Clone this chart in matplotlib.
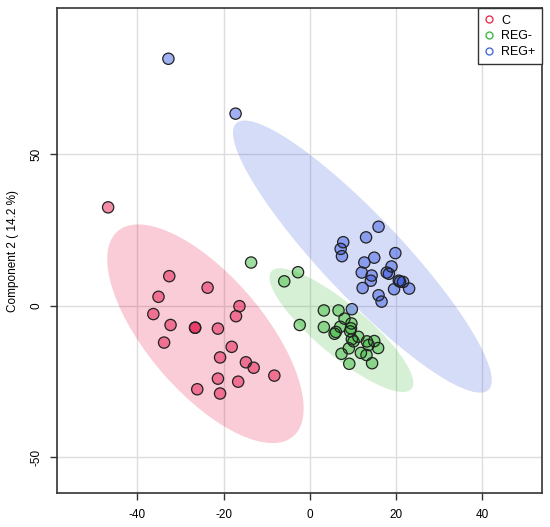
import numpy as np
import matplotlib
matplotlib.use("Agg")
import matplotlib.pyplot as plt
from matplotlib.patches import Ellipse
from matplotlib.lines import Line2D

plt.rcParams['font.family'] = ['Liberation Sans', 'DejaVu Sans']

# group scores (component 1, component 2)
c_x = [-46.8, -32.6, -23.7, -35.1, -16.3, -36.3, -17.1, -32.3, -26.6, -26.6,
       -21.3, -33.8, -18.1, -20.8, -14.8, -13.0, -8.2, -21.3, -16.6, -26.1, -20.8]
c_y = [32.4, 9.7, 5.9, 2.9, -0.2, -2.8, -3.5, -6.4, -7.3, -7.3,
       -7.6, -12.2, -13.6, -17.1, -18.7, -20.5, -23.1, -24.1, -25.1, -27.6, -29.0]

regm_x = [-13.6, -2.7, -5.9, -2.3, 3.3, 6.7, 8.1, 3.3, 5.8, 6.1, 7.1, 9.7, 9.6, 9.4,
          11.3, 9.8, 10.2, 13.3, 15.0, 13.7, 15.9, 9.1, 11.9, 13.2, 7.4, 14.5, 9.2]
regm_y = [14.2, 11.0, 8.0, -6.4, -1.6, -1.6, -4.3, -7.1, -9.3, -8.7, -7.0, -5.9, -7.5, -8.5,
          -10.3, -11.1, -11.8, -11.8, -11.7, -13.0, -14.0, -14.1, -15.6, -16.3, -15.9, -19.0, -19.2]

regp_x = [-32.8, -17.2, 16.0, 13.1, 7.8, 7.2, 7.5, 19.9, 15.0, 12.7, 19.0, 12.1, 14.4,
          17.9, 18.4, 14.2, 20.7, 21.0, 21.7, 23.1, 19.6, 12.3, 16.0, 16.7, 9.8]
regp_y = [81.4, 63.3, 26.0, 22.5, 20.9, 18.7, 16.3, 17.3, 15.8, 14.2, 12.9, 10.9, 9.9,
          10.9, 10.5, 8.2, 8.2, 7.9, 7.8, 5.6, 5.4, 5.8, 3.4, 1.3, -1.2]

groups = ["C", "REG-", "REG+"]
colors = ["#E5003A", "#2DB52D", "#3050E0"]
legend_colors = ["#E8334F", "#3DBB4A", "#4A6BE0"]

x_ticks = [-40, -20, 0, 20, 40]
y_ticks = [-50, 0, 50]


def conf_ellipse(x, y, color):
    # 95% confidence ellipse from the group covariance
    x = np.asarray(x)
    y = np.asarray(y)
    cov = np.cov(x, y)
    vals, vecs = np.linalg.eigh(cov)
    order = vals.argsort()[::-1]
    vals, vecs = vals[order], vecs[:, order]
    t = np.sqrt(5.991)
    angle = np.degrees(np.arctan2(vecs[1, 0], vecs[0, 0]))
    return Ellipse((x.mean(), y.mean()), 2 * t * np.sqrt(vals[0]), 2 * t * np.sqrt(vals[1]),
                   angle=angle, facecolor=color, alpha=0.2, edgecolor='none', zorder=1)


fig = plt.figure(figsize=(5.5, 5.27), dpi=100)
ax = fig.add_axes([0.1042, 0.064, 0.8808, 0.920])

data = [(c_x, c_y), (regm_x, regm_y), (regp_x, regp_y)]
for (gx, gy), col in zip(data, colors):
    ax.add_patch(conf_ellipse(gx, gy, col))

for (gx, gy), col in zip(data, colors):
    ax.scatter(gx, gy, s=66, facecolor=col, alpha=0.45, edgecolor='none', zorder=3)
    ax.scatter(gx, gy, s=66, facecolor='none', edgecolor='#222222', linewidth=0.9, zorder=4)

ax.set_xlim(-58.6, 53.9)
ax.set_ylim(-61.9, 98.0)
ax.set_xticks(x_ticks)
ax.set_yticks(y_ticks)
ax.set_xticklabels([str(v) for v in x_ticks])
ax.set_yticklabels([str(v) for v in y_ticks], rotation=90, va='center')
ax.grid(True, color='#dddddd', linewidth=1.0, zorder=0)
ax.set_axisbelow(True)
ax.tick_params(direction='out', length=5, width=1, color='#333333', labelsize=8.5, pad=6)
for s in ax.spines.values():
    s.set_color('#333333')
    s.set_linewidth(1.2)
ax.set_ylabel("Component 2 ( 14.2 %)", fontsize=8.5, labelpad=8)

handles = [Line2D([], [], marker='o', linestyle='none', markerfacecolor='none',
                  markeredgecolor=lc, markersize=5, markeredgewidth=1.0, label=g)
           for g, lc in zip(groups, legend_colors)]
leg = ax.legend(handles=handles, loc='upper right', borderaxespad=0, fancybox=False,
                framealpha=1, edgecolor='#333333', fontsize=9, handlelength=0.8,
                handletextpad=0.6, labelspacing=0.3, borderpad=0.5)
leg.get_frame().set_linewidth(1.0)

fig.savefig("out.png", dpi=100)
